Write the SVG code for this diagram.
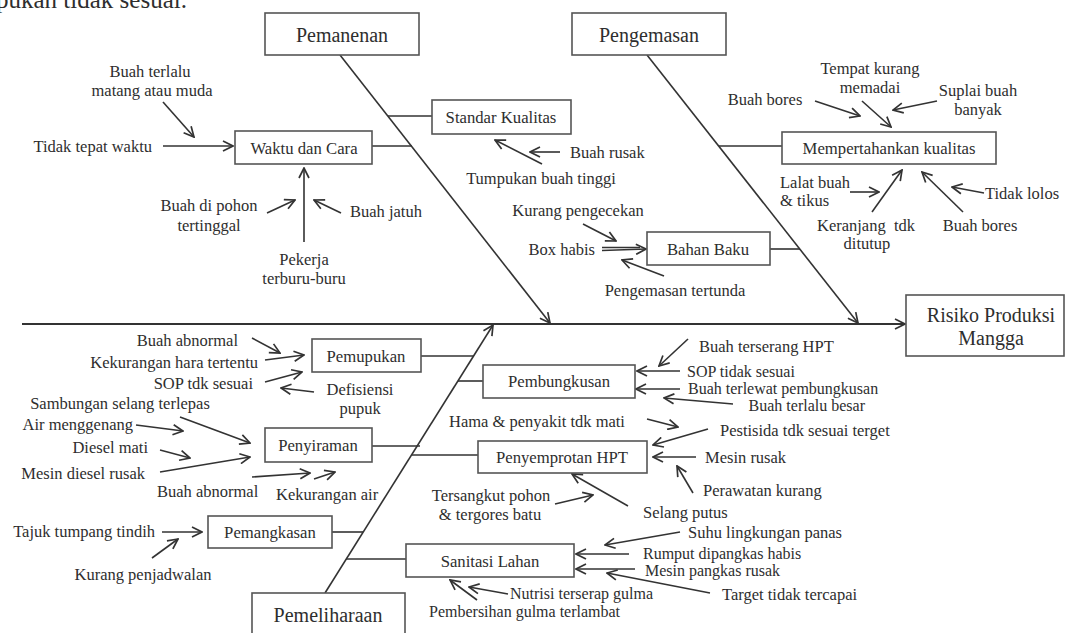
<svg xmlns="http://www.w3.org/2000/svg" width="1065" height="633" viewBox="0 0 1065 633">
<style>
text{font-family:"Liberation Serif","Times New Roman",serif;fill:#2e2e2e;}
.s{font-size:16.5px;}
.n{font-size:16px;}
.b{font-size:16.7px;text-anchor:middle;}
.t{font-size:20px;text-anchor:middle;}
.m{text-anchor:middle;}
.e{text-anchor:end;}
.box{fill:#fff;stroke:#555;stroke-width:1.6;}
.c line,.c polyline{stroke:#333;stroke-width:1.6;fill:none;}
.c .ar{marker-end:url(#a);}
.c .big{stroke-width:2;}
</style>
<defs>
<marker id="a" viewBox="0 0 12 12" refX="11" refY="6" markerWidth="12" markerHeight="12" orient="auto" markerUnits="userSpaceOnUse">
<path d="M1,1 L11,6 L1,11" fill="none" stroke="#333" stroke-width="1.7"/>
</marker>
</defs>
<rect width="1065" height="633" fill="#fff"/>
<text x="-4" y="8" style="font-size:25px">pukan tidak sesuai.</text>

<g class="c" id="connectors">
<line class="ar big" x1="22" y1="324" x2="905" y2="324"/>
<line class="ar" x1="340" y1="55" x2="550" y2="323"/>
<line class="ar" x1="647" y1="55" x2="858" y2="323"/>
<line class="ar" x1="325" y1="593" x2="493" y2="325"/>
<line x1="388" y1="116" x2="432" y2="116"/>
<line x1="372" y1="146" x2="412" y2="146"/>
<line x1="770" y1="249" x2="800" y2="249"/>
<line x1="719" y1="146" x2="782" y2="146"/>
<line x1="421" y1="356" x2="474" y2="356"/>
<line x1="458" y1="381" x2="483" y2="381"/>
<line x1="372" y1="446" x2="420" y2="446"/>
<line x1="412" y1="455" x2="478" y2="455"/>
<line x1="332" y1="532" x2="363" y2="532"/>
<line x1="346" y1="559" x2="406" y2="559"/>

<line class="ar" x1="163" y1="102" x2="194" y2="137"/>
<line class="ar" x1="163" y1="146" x2="233" y2="146"/>
<line class="ar" x1="304" y1="242" x2="304" y2="168"/>
<line class="ar" x1="267" y1="213" x2="295" y2="200"/>
<line class="ar" x1="341" y1="213" x2="314" y2="200"/>

<line class="ar" x1="560" y1="152" x2="530" y2="152"/>
<line class="ar" x1="542" y1="164" x2="495" y2="140"/>
<line class="ar" x1="583" y1="224" x2="616" y2="241"/>
<line x1="602" y1="247.5" x2="640" y2="247.5"/>
<line class="ar" x1="602" y1="250.5" x2="646" y2="249"/>
<line class="ar" x1="664" y1="276" x2="622" y2="260"/>

<line class="ar" x1="815" y1="101" x2="860" y2="116"/>
<line class="ar" x1="862" y1="101" x2="891" y2="127"/>
<line class="ar" x1="937" y1="101" x2="893" y2="110"/>
<line class="ar" x1="850" y1="192" x2="879" y2="192"/>
<line class="ar" x1="872" y1="212" x2="902" y2="170"/>
<line class="ar" x1="963" y1="212" x2="922" y2="172"/>
<line class="ar" x1="984" y1="193" x2="952" y2="187"/>

<line class="ar" x1="252" y1="338" x2="280" y2="353"/>
<line class="ar" x1="265" y1="360" x2="304" y2="355"/>
<line class="ar" x1="265" y1="382" x2="302" y2="372"/>
<line class="ar" x1="314" y1="392" x2="281" y2="388"/>

<line class="ar" x1="180" y1="417" x2="250" y2="443"/>
<line class="ar" x1="136" y1="425" x2="183" y2="431"/>
<line class="ar" x1="160" y1="450" x2="190" y2="458"/>
<line class="ar" x1="160" y1="472" x2="250" y2="457"/>
<line class="ar" x1="252" y1="477" x2="310" y2="473"/>
<line class="ar" x1="314" y1="479" x2="335" y2="472"/>

<line class="ar" x1="162" y1="532" x2="202" y2="532"/>
<line class="ar" x1="152" y1="558" x2="178" y2="539"/>

<line class="ar" x1="688" y1="339" x2="659" y2="366"/>
<line class="ar" x1="680" y1="371" x2="637" y2="371"/>
<line class="ar" x1="680" y1="389" x2="636" y2="389"/>
<line class="ar" x1="733" y1="404" x2="664" y2="398"/>

<line class="ar" x1="647" y1="419" x2="678" y2="427"/>
<line class="ar" x1="708" y1="429" x2="653" y2="445"/>
<line class="ar" x1="696" y1="457" x2="653" y2="457"/>
<line class="ar" x1="693" y1="493" x2="677" y2="466"/>
<line class="ar" x1="628" y1="506" x2="572" y2="474"/>
<line class="ar" x1="555" y1="504" x2="593" y2="495"/>

<line class="ar" x1="680" y1="532" x2="605" y2="545"/>
<line class="ar" x1="629" y1="554" x2="576" y2="554"/>
<line class="ar" x1="635" y1="569" x2="576" y2="569"/>
<line class="ar" x1="710" y1="593" x2="607" y2="573"/>
<line class="ar" x1="508" y1="594" x2="469" y2="587"/>
<line class="ar" x1="477" y1="600" x2="450" y2="580"/>
</g>

<g id="pemanenan"><rect class="box" x="265" y="13" width="154" height="42"/><text class="t" x="342" y="42">Pemanenan</text></g>
<g id="pengemasan"><rect class="box" x="572" y="13" width="154" height="42"/><text class="t" x="649" y="42">Pengemasan</text></g>
<g id="pemeliharaan"><rect class="box" x="252" y="593" width="153" height="44"/><text class="t" x="328" y="622">Pemeliharaan</text></g>
<g id="risiko"><rect class="box" x="906" y="295" width="158" height="61"/><text class="t" x="991" y="322">Risiko Produksi</text><text class="t" x="991" y="345">Mangga</text></g>

<g id="waktu"><rect class="box" x="235" y="131" width="137" height="33"/><text class="b" x="304" y="154">Waktu dan Cara</text></g>
<g id="standar"><rect class="box" x="432" y="100" width="139" height="34"/><text class="b" x="501" y="123">Standar Kualitas</text></g>
<g id="bahan"><rect class="box" x="647" y="232" width="123" height="33"/><text class="b" x="708" y="255">Bahan Baku</text></g>
<g id="mempertahankan"><rect class="box" x="782" y="132" width="214" height="32"/><text class="b" x="889" y="154">Mempertahankan kualitas</text></g>
<g id="pemupukan"><rect class="box" x="312" y="339" width="109" height="33"/><text class="b" x="366" y="362">Pemupukan</text></g>
<g id="pembungkusan"><rect class="box" x="483" y="365" width="152" height="33"/><text class="b" x="559" y="387">Pembungkusan</text></g>
<g id="penyiraman"><rect class="box" x="265" y="428" width="107" height="34"/><text class="b" x="318" y="451">Penyiraman</text></g>
<g id="penyemprotan"><rect class="box" x="478" y="441" width="169" height="32"/><text class="b" x="562" y="463">Penyemprotan HPT</text></g>
<g id="pemangkasan"><rect class="box" x="208" y="516" width="124" height="32"/><text class="b" x="270" y="538">Pemangkasan</text></g>
<g id="sanitasi"><rect class="box" x="406" y="544" width="168" height="33"/><text class="b" x="490" y="567">Sanitasi Lahan</text></g>

<g id="labels" class="s">
<text class="s m" x="150" y="77">Buah terlalu</text>
<text class="s m" x="152" y="96">matang atau muda</text>
<text class="s e" x="152" y="152">Tidak tepat waktu</text>
<text class="s m" x="209" y="211">Buah di pohon</text>
<text class="s m" x="209" y="231">tertinggal</text>
<text class="s" x="350" y="217">Buah jatuh</text>
<text class="s m" x="304" y="265">Pekerja</text>
<text class="s m" x="304" y="284">terburu-buru</text>
<text class="s" x="570" y="158">Buah rusak</text>
<text class="s m" x="541" y="184">Tumpukan buah tinggi</text>
<text class="s m" x="578" y="216">Kurang pengecekan</text>
<text class="s e" x="595" y="255">Box habis</text>
<text class="s m" x="675" y="296">Pengemasan tertunda</text>
<text class="s m" x="870" y="74">Tempat kurang</text>
<text class="s m" x="870" y="93">memadai</text>
<text class="s m" x="765" y="105">Buah bores</text>
<text class="s m" x="978" y="96">Suplai buah</text>
<text class="s m" x="978" y="115">banyak</text>
<text class="s" x="780" y="188">Lalat buah</text>
<text class="s" x="780" y="206">&amp; tikus</text>
<text class="s m" x="866" y="231" style="white-space:pre">Keranjang  tdk</text>
<text class="s m" x="867" y="249">ditutup</text>
<text class="s m" x="980" y="231">Buah bores</text>
<text class="s" x="985" y="199">Tidak lolos</text>
<text class="s e" x="238" y="346">Buah abnormal</text>
<text class="s e" x="258" y="368">Kekurangan hara tertentu</text>
<text class="s e" x="253" y="389">SOP tdk sesuai</text>
<text class="s m" x="360" y="395">Defisiensi</text>
<text class="s m" x="360" y="414">pupuk</text>
<text class="s m" x="120" y="409">Sambungan selang terlepas</text>
<text class="s e" x="133" y="430">Air menggenang</text>
<text class="s e" x="148" y="453">Diesel mati</text>
<text class="s e" x="145" y="479">Mesin diesel rusak</text>
<text class="s" x="157" y="497">Buah abnormal</text>
<text class="s" x="276" y="500">Kekurangan air</text>
<text class="s e" x="155" y="537">Tajuk tumpang tindih</text>
<text class="s m" x="143" y="580">Kurang penjadwalan</text>
<text class="s" x="699" y="352">Buah terserang HPT</text>
<text class="n" x="687" y="377">SOP tidak sesuai</text>
<text class="n" x="688" y="394">Buah terlewat pembungkusan</text>
<text class="n e" x="865" y="411">Buah terlalu besar</text>
<text class="s" x="449" y="427">Hama &amp; penyakit tdk mati</text>
<text class="s" x="720" y="436">Pestisida tdk sesuai terget</text>
<text class="s" x="705" y="463">Mesin rusak</text>
<text class="s" x="703" y="496">Perawatan kurang</text>
<text class="s" x="643" y="518">Selang putus</text>
<text class="s m" x="491" y="501">Tersangkut pohon</text>
<text class="s m" x="490" y="520">&amp; tergores batu</text>
<text class="s" x="688" y="538">Suhu lingkungan panas</text>
<text class="n" x="643" y="559">Rumput dipangkas habis</text>
<text class="n" x="645" y="576">Mesin pangkas rusak</text>
<text class="s" x="722" y="600">Target tidak tercapai</text>
<text class="n" x="510" y="599">Nutrisi terserap gulma</text>
<text class="n" x="429" y="617">Pembersihan gulma terlambat</text>
</g>
</svg>
